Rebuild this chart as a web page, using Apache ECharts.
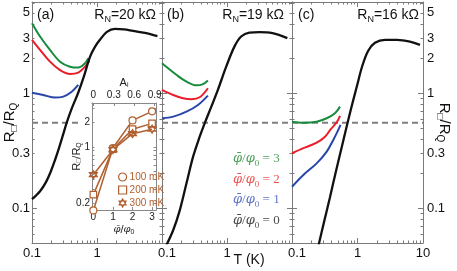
<!DOCTYPE html>
<html><head><meta charset="utf-8">
<script src="https://cdn.jsdelivr.net/npm/echarts@6/dist/echarts.min.js"></script>
<style>html,body{margin:0;padding:0;background:#fff}#c{width:457px;height:271px}</style>
</head><body><div id="c"></div>
<script>
// ---------------- data (T in K, R in units of R_Q) ----------------
// panel (a) R_N = 20 kOhm
const aBlackT = [0.1, 0.133, 0.164, 0.196, 0.226, 0.26, 0.3, 0.345, 0.412, 0.51, 0.631, 0.78, 0.93, 1.11, 1.42, 1.89, 2.6, 3.58, 5.47, 8.5];
const aBlackR = [0.12, 0.141, 0.169, 0.211, 0.263, 0.334, 0.434, 0.563, 0.745, 1.0, 1.41, 2.07, 2.53, 2.91, 3.41, 3.62, 3.59, 3.48, 3.34, 3.13];
const aGreenT = [0.1, 0.133, 0.189, 0.27, 0.384, 0.515, 0.654, 0.735];
const aGreenR = [4.06, 3.11, 2.38, 1.88, 1.70, 1.67, 1.82, 2.01];
const aRedT = [0.1, 0.133, 0.189, 0.27, 0.384, 0.515, 0.654, 0.761];
const aRedR = [2.91, 2.38, 1.88, 1.59, 1.47, 1.51, 1.70, 1.91];
const aBlueT = [0.1, 0.149, 0.226, 0.303, 0.408, 0.515];
const aBlueR = [1.01, 0.966, 0.916, 0.934, 1.03, 1.18];
// panel (b) R_N = 19 kOhm
const bBlackT = [0.115, 0.149, 0.188, 0.238, 0.301, 0.38, 0.453, 0.574, 0.724, 0.972, 1.3, 1.65, 2.21, 3.13, 5.01, 8.48];
const bBlackR = [0.047, 0.0648, 0.0966, 0.165, 0.281, 0.419, 0.548, 0.765, 1.07, 1.70, 2.54, 3.11, 3.36, 3.39, 3.32, 3.01];
const bGreenT = [0.1, 0.168, 0.238, 0.339, 0.427, 0.509];
const bGreenR = [1.82, 1.44, 1.26, 1.17, 1.20, 1.29];
const bRedT = [0.1, 0.149, 0.211, 0.284, 0.38, 0.509];
const bRedR = [1.07, 0.966, 0.905, 0.887, 0.923, 1.105];
const bBlueT = [0.1, 0.149, 0.238, 0.358, 0.509];
const bBlueR = [0.606, 0.626, 0.692, 0.791, 0.953];
// panel (c) R_N = 16 kOhm
const cBlackT = [0.255, 0.308, 0.38, 0.47, 0.58, 0.692, 0.824, 0.983, 1.17, 1.45, 1.85, 2.63, 4.01, 6.31, 9.0];
const cBlackR = [0.048, 0.0759, 0.125, 0.211, 0.348, 0.53, 0.791, 1.16, 1.69, 2.33, 2.74, 2.91, 2.91, 2.81, 2.63];
const cGreenT = [0.1, 0.149, 0.238, 0.339, 0.453, 0.541];
const cGreenR = [0.566, 0.555, 0.566, 0.606, 0.67, 0.765];
const cRedT = [0.1, 0.149, 0.238, 0.319, 0.394, 0.486, 0.541];
const cRedR = [0.301, 0.333, 0.372, 0.419, 0.49, 0.563, 0.635];
const cBlueT = [0.1, 0.149, 0.238, 0.339, 0.427, 0.509, 0.55];
const cBlueR = [0.154, 0.195, 0.246, 0.311, 0.393, 0.48, 0.53];
// dashed reference level
const dashedR = 0.555;
// inset: R/R_Q vs flux
const insetPhi = [0, 1, 2, 3];
const inset100 = [0.164, 0.97, 2.13, 2.76];
const inset200 = [0.257, 0.94, 1.66, 1.96];
const inset300 = [0.454, 0.926, 1.46, 1.66];
// tick labels
const yTickLabels = [0.1, 0.3, 1, 2, 3, 5];
const xTickLabelsAB = [0.1, 1];
const xTickLabelsC = [0.1, 1, 10];
const yMinorTicks = [0.05, 0.06, 0.07, 0.08, 0.09, 0.2, 0.3, 0.4, 0.5, 0.6, 0.7, 0.8, 0.9, 2, 3, 4, 5, 6];
const yMajorTicks = [0.1, 1];
const xMinorTicks = [0.2, 0.3, 0.4, 0.5, 0.6, 0.7, 0.8, 0.9, 2, 3, 4, 5, 6, 7, 8, 9];
const xMajorTicks = [0.1, 1, 10];
const insetYTicks = [0.2, 0.3, 0.4, 0.5, 0.6, 0.7, 0.8, 0.9, 1, 2, 3];
const insetYLabels = [0.2, 1, 2];
const insetXLabels = [0, 1, 2, 3];
const insetTopLabels = [0, 0.3, 0.6, 0.9];
const legendTexts = ['3', '2', '1', '0'];

// ---------------- styling / build ----------------
const L = Math.log10;
const SANS = 'Liberation Sans, Arial, Helvetica, sans-serif';
const SERIF = 'DejaVu Serif, Liberation Serif, serif';
const AX = '#7a7a7a';
const BROWN = '#b0602f';
const GREEN = '#178c3c', RED = '#eb1e28', BLUE = '#2846aa', BLACK = '#111111';
const X_MIN = 0.1, X_MAX = 10, Y_MIN = 0.05, Y_MAX = 6.2;
const fmt = v => String(Number(Math.pow(10, v).toPrecision(2)));

const grid = [
  {left: 32, top: 2, width: 130, height: 241, outerBoundsMode: 'none', containLabel: false},
  {left: 162, top: 2, width: 130, height: 241, outerBoundsMode: 'none', containLabel: false},
  {left: 292, top: 2, width: 131, height: 241, outerBoundsMode: 'none', containLabel: false},
  {left: 92, top: 103, width: 64, height: 107, outerBoundsMode: 'none', containLabel: false,
    show: true, backgroundColor: '#fff', borderWidth: 0, z: 10}
];

const xAxis = [], yAxis = [];
function tick(len, vals) {
  return {show: true, inside: true, length: len, customValues: vals.map(L), lineStyle: {color: AX, width: 1}};
}
function line(show, color) {
  return {show: show, onZero: false, lineStyle: {color: color || AX, width: 1}};
}
function mainX(gi, labels) {
  const base = {type: 'value', gridIndex: gi, min: L(X_MIN), max: L(X_MAX), splitLine: {show: false}};
  const shift = gi > 0;
  xAxis.push(Object.assign({}, base, {position: 'bottom',
    axisLine: line(true), axisTick: tick(2.5, xMinorTicks),
    axisLabel: {show: true, customValues: labels.map(L), margin: 4, color: '#111', fontSize: 13, fontFamily: SANS,
      showMinLabel: true, showMaxLabel: true,
      formatter: v => { const s = fmt(v); return (shift && Math.abs(v + 1) < 1e-9) ? '{p|' + s + '}' : s; },
      rich: {p: {padding: [0, 0, 0, 10], fontSize: 13, fontFamily: SANS, color: '#111'}}}}));
  xAxis.push(Object.assign({}, base, {position: 'bottom', axisLine: line(false), axisTick: tick(5, xMajorTicks), axisLabel: {show: false}}));
  xAxis.push(Object.assign({}, base, {position: 'top', axisLine: line(true), axisTick: tick(2.5, xMinorTicks), axisLabel: {show: false}}));
  xAxis.push(Object.assign({}, base, {position: 'top', axisLine: line(false), axisTick: tick(5, xMajorTicks), axisLabel: {show: false}}));
}
const yNameRich = {
  r: {fontSize: 15, fontFamily: SANS, color: '#111', lineHeight: 19},
  s: {fontSize: 10, fontFamily: SANS, color: '#111', lineHeight: 11, verticalAlign: 'bottom'}
};
function mainY(gi) {
  const base = {type: 'value', gridIndex: gi, min: L(Y_MIN), max: L(Y_MAX), splitLine: {show: false}};
  const lbl = m => ({show: true, customValues: yTickLabels.map(L), margin: m, color: '#111', fontSize: 13, fontFamily: SANS,
    showMinLabel: true, showMaxLabel: true, formatter: v => fmt(v)});
  const left = Object.assign({}, base, {position: 'left', axisLine: line(true),
    axisTick: tick(2.5, yMinorTicks), axisLabel: gi === 0 ? lbl(2) : {show: false}});
  if (gi === 0) Object.assign(left, {name: '{r|R}{s|□}{r|/R}{s|Q}', nameLocation: 'middle', nameRotate: 90, nameGap: 13,
    nameMoveOverlap: false, nameTextStyle: {rich: yNameRich}});
  yAxis.push(left);
  yAxis.push(Object.assign({}, base, {position: 'left', axisLine: line(false), axisTick: tick(5, yMajorTicks), axisLabel: {show: false}}));
  const right = Object.assign({}, base, {position: 'right', axisLine: line(true),
    axisTick: tick(2.5, yMinorTicks), axisLabel: gi === 2 ? lbl(4) : {show: false}});
  if (gi === 2) Object.assign(right, {name: '{r|R}{s|□}{r|/R}{s|Q}', nameLocation: 'middle', nameRotate: -90, nameGap: 12,
    nameMoveOverlap: false, nameTextStyle: {rich: yNameRich}});
  yAxis.push(right);
  yAxis.push(Object.assign({}, base, {position: 'right', axisLine: line(false), axisTick: tick(5, yMajorTicks), axisLabel: {show: false}}));
}
mainX(0, xTickLabelsAB); mainX(1, xTickLabelsAB); mainX(2, xTickLabelsC);
mainY(0); mainY(1); mainY(2);

// inset axes (index 12 / 13)
const insetAxisCommon = {gridIndex: 3, type: 'value', splitLine: {show: false}, z: 11, axisLine: line(true, '#888'), nameMoveOverlap: false};
const small = {color: '#222', fontSize: 10, fontFamily: SANS};
const subRich = base => ({[base]: {fontSize: 11, fontFamily: SANS, color: '#222', lineHeight: 13},
  s: {fontSize: 7, fontFamily: SANS, color: '#222', lineHeight: 7, verticalAlign: 'bottom'}});
xAxis.push(Object.assign({}, insetAxisCommon, {position: 'bottom', min: -0.07, max: 3.2,
  axisTick: {show: true, inside: true, length: 3, customValues: insetXLabels, lineStyle: {color: '#888'}},
  axisLabel: Object.assign({show: true, customValues: insetXLabels, margin: 2, showMinLabel: true, showMaxLabel: true}, small),
  name: '{i|φ\u0304}{r|/}{i|φ}{s|0}', nameLocation: 'middle', nameGap: 13,
  nameTextStyle: {rich: Object.assign(subRich('r'), {i: {fontSize: 10, fontFamily: SERIF, fontStyle: 'italic', color: '#222', lineHeight: 13}})}}));
xAxis.push(Object.assign({}, insetAxisCommon, {position: 'top', min: -0.02, max: 0.92,
  axisTick: {show: true, inside: true, length: 3, customValues: insetTopLabels, lineStyle: {color: '#888'}},
  axisLabel: Object.assign({show: true, customValues: insetTopLabels, margin: 3, showMinLabel: true, showMaxLabel: true, formatter: v => String(v)}, small),
  name: '{a|A}{s|i}', nameLocation: 'middle', nameGap: 14,
  nameTextStyle: {rich: subRich('a')}}));
yAxis.push(Object.assign({}, insetAxisCommon, {position: 'left', min: L(0.166), max: L(3.5),
  axisTick: {show: true, inside: true, length: 2.5, customValues: insetYTicks.map(L), lineStyle: {color: '#888'}},
  axisLabel: Object.assign({show: true, customValues: insetYLabels.map(L), margin: 2, showMinLabel: true, showMaxLabel: true, formatter: v => fmt(v)}, small),
  name: '{r|R}{s|□}{r|/R}{s|Q}', nameLocation: 'middle', nameRotate: 90, nameGap: 9,
  nameTextStyle: {rich: subRich('r')}}));
yAxis.push(Object.assign({}, insetAxisCommon, {position: 'right', min: L(0.166), max: L(3.5),
  axisTick: {show: true, inside: true, length: 2.5, customValues: insetYTicks.map(L), lineStyle: {color: '#888'}},
  axisLabel: {show: false}}));

// series
function curve(gi, T, R, color, w) {
  return {type: 'line', xAxisIndex: gi * 4, yAxisIndex: gi * 4, data: T.map((t, i) => [L(t), L(R[i])]),
    symbol: 'none', smooth: 0.35, lineStyle: {color: color, width: w}, itemStyle: {color: color}, z: 3, silent: true};
}
function dashed(gi, tEnd) {
  return {type: 'line', xAxisIndex: gi * 4, yAxisIndex: gi * 4, data: [[L(0.1), L(dashedR)], [L(tEnd), L(dashedR)]],
    symbol: 'none', lineStyle: {color: '#7f7f7f', width: 2, type: [6, 4]}, z: 2, silent: true};
}
const HEX = 'path://M0,-10L8.66,5L-8.66,5Z M0,10L8.66,-5L-8.66,-5Z';
function insetSeries(name, vals, symbol, size) {
  return {type: 'line', name: name, xAxisIndex: 12, yAxisIndex: 12, data: insetPhi.map((p, i) => [p, L(vals[i])]),
    symbol: symbol, symbolSize: size, showSymbol: true, clip: false, z: 12,
    lineStyle: {color: BROWN, width: 1.5}, itemStyle: {color: '#fff', borderColor: BROWN, borderWidth: 1.2}};
}
const series = [
  dashed(0, 0.55), dashed(1, 10), dashed(2, 10),
  curve(0, aGreenT, aGreenR, GREEN, 2), curve(0, aRedT, aRedR, RED, 2), curve(0, aBlueT, aBlueR, BLUE, 2), curve(0, aBlackT, aBlackR, BLACK, 2.3),
  curve(1, bGreenT, bGreenR, GREEN, 2), curve(1, bRedT, bRedR, RED, 2), curve(1, bBlueT, bBlueR, BLUE, 2), curve(1, bBlackT, bBlackR, BLACK, 2.3),
  curve(2, cGreenT, cGreenR, GREEN, 2), curve(2, cRedT, cRedR, RED, 2), curve(2, cBlueT, cBlueR, BLUE, 2), curve(2, cBlackT, cBlackR, BLACK, 2.3),
  insetSeries('100 mK', inset100, 'circle', 7), insetSeries('200 mK', inset200, 'rect', 6.5), insetSeries('300 mK', inset300, HEX, 8)
];

// texts
function rn(x, val) {
  return {type: 'text', z: 20, style: {x: x, y: 15, textAlign: 'right', textVerticalAlign: 'middle',
    text: '{r|R}{s|N}{r|=' + val + ' kΩ}',
    rich: {r: {fontSize: 14, fontFamily: SANS, fill: '#111', lineHeight: 18},
      s: {fontSize: 9, fontFamily: SANS, fill: '#111', lineHeight: 10, verticalAlign: 'bottom'}}}};
}
function panelLbl(x, s) {
  return {type: 'text', z: 20, style: {x: x, y: 15, textVerticalAlign: 'middle', text: s, fontSize: 14, fontFamily: SANS, fill: '#111'}};
}
const legendColors = ['#4f9f5c', '#f05555', '#5f74c4', '#4a4a4a'];
const legendY = [159, 180, 200, 221];
const graphic = [
  panelLbl(37, '(a)'), panelLbl(167, '(b)'), panelLbl(298, '(c)'),
  rn(156, '20'), rn(284, '19'), rn(419, '16'),
  {type: 'text', z: 20, style: {x: 249, y: 260, textAlign: 'center', textVerticalAlign: 'middle', text: 'T (K)', fontSize: 14, fontFamily: SANS, fill: '#111'}}
];
legendTexts.forEach((v, i) => {
  const c = legendColors[i];
  graphic.push({type: 'text', z: 20, style: {x: 233, y: legendY[i], textAlign: 'left', textVerticalAlign: 'middle',
    text: '{v|φ\u0304}{n|/}{v|φ}{s|0}{n| = ' + v + '}',
    rich: {v: {fontSize: 13, fontFamily: SERIF, fontStyle: 'italic', fill: c, lineHeight: 18},
      n: {fontSize: 13, fontFamily: 'Liberation Serif, serif', fill: c, lineHeight: 18},
      s: {fontSize: 9, fontFamily: 'Liberation Serif, serif', fill: c, lineHeight: 10, verticalAlign: 'bottom'}}}});
});

const option = {
  animation: false,
  backgroundColor: '#fff',
  grid: grid, xAxis: xAxis, yAxis: yAxis, series: series, graphic: graphic,
  legend: {show: true, orient: 'vertical', left: 113, top: 167, itemWidth: 8, itemHeight: 8, itemGap: 3, z: 20,
    textStyle: {color: BROWN, fontSize: 10, fontFamily: SANS, padding: [0, 0, 0, -2]},
    itemStyle: {color: '#fff', borderColor: BROWN, borderWidth: 1.2},
    data: [{name: '100 mK', icon: 'circle'}, {name: '200 mK', icon: 'rect'}, {name: '300 mK', icon: HEX}]}
};
const chart = echarts.init(document.getElementById('c'));
chart.setOption(option);
</script></body></html>
